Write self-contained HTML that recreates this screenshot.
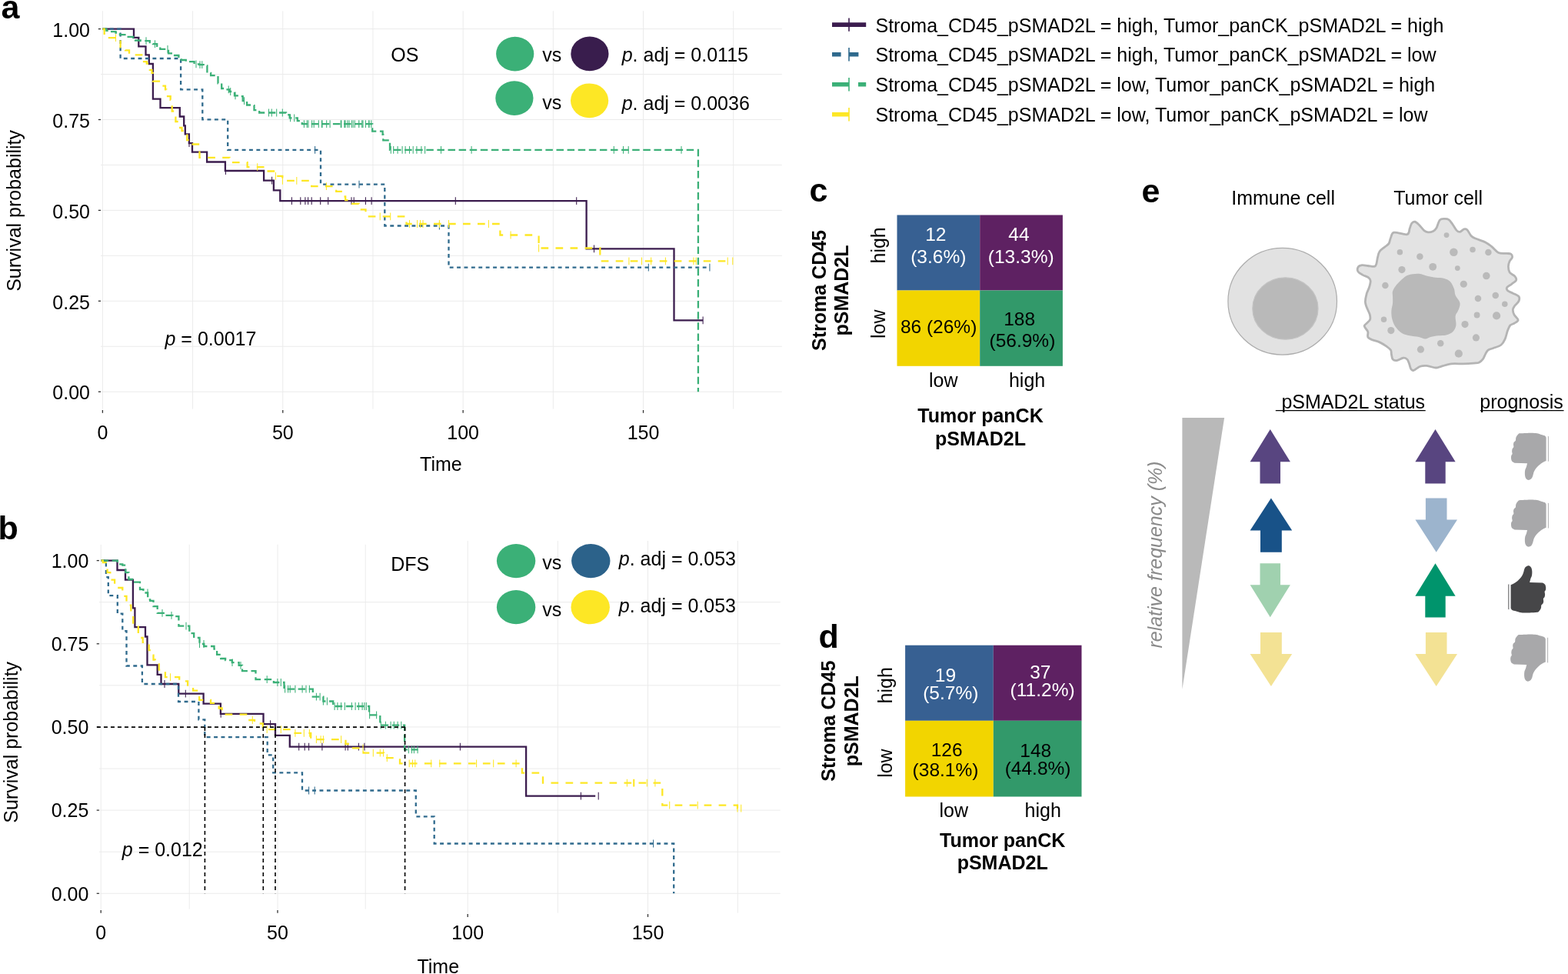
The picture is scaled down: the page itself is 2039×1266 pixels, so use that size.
<!DOCTYPE html>
<html><head><meta charset="utf-8"><title>Figure</title>
<style>html,body{margin:0;padding:0;background:#fff;} svg{display:block;}</style>
</head><body>
<svg width="2039" height="1266" viewBox="0 0 2039 1266" font-family='"Liberation Sans", Arial, Helvetica, sans-serif'>
<rect width="2039" height="1266" fill="#fff"/>
<line x1="131.0" y1="37.60" x2="1016.8" y2="37.60" stroke="#ebebeb" stroke-width="1.0"/>
<line x1="131.0" y1="96.55" x2="1016.8" y2="96.55" stroke="#ebebeb" stroke-width="1.0"/>
<line x1="131.0" y1="155.50" x2="1016.8" y2="155.50" stroke="#ebebeb" stroke-width="1.0"/>
<line x1="131.0" y1="214.45" x2="1016.8" y2="214.45" stroke="#ebebeb" stroke-width="1.0"/>
<line x1="131.0" y1="273.40" x2="1016.8" y2="273.40" stroke="#ebebeb" stroke-width="1.0"/>
<line x1="131.0" y1="332.35" x2="1016.8" y2="332.35" stroke="#ebebeb" stroke-width="1.0"/>
<line x1="131.0" y1="391.30" x2="1016.8" y2="391.30" stroke="#ebebeb" stroke-width="1.0"/>
<line x1="131.0" y1="450.25" x2="1016.8" y2="450.25" stroke="#ebebeb" stroke-width="1.0"/>
<line x1="131.0" y1="509.20" x2="1016.8" y2="509.20" stroke="#ebebeb" stroke-width="1.0"/>
<line x1="133.40" y1="14.3" x2="133.40" y2="531.6" stroke="#ebebeb" stroke-width="1.0"/>
<line x1="250.59" y1="14.3" x2="250.59" y2="531.6" stroke="#ebebeb" stroke-width="1.0"/>
<line x1="367.77" y1="14.3" x2="367.77" y2="531.6" stroke="#ebebeb" stroke-width="1.0"/>
<line x1="484.96" y1="14.3" x2="484.96" y2="531.6" stroke="#ebebeb" stroke-width="1.0"/>
<line x1="602.15" y1="14.3" x2="602.15" y2="531.6" stroke="#ebebeb" stroke-width="1.0"/>
<line x1="719.34" y1="14.3" x2="719.34" y2="531.6" stroke="#ebebeb" stroke-width="1.0"/>
<line x1="836.52" y1="14.3" x2="836.52" y2="531.6" stroke="#ebebeb" stroke-width="1.0"/>
<line x1="953.71" y1="14.3" x2="953.71" y2="531.6" stroke="#ebebeb" stroke-width="1.0"/>
<line x1="127.8" y1="37.60" x2="131.0" y2="37.60" stroke="#333" stroke-width="1.3"/>
<text x="117.0" y="47.8" font-size="25" text-anchor="end" font-weight="normal" font-style="normal" fill="#000" >1.00</text>
<line x1="127.8" y1="155.50" x2="131.0" y2="155.50" stroke="#333" stroke-width="1.3"/>
<text x="117.0" y="165.7" font-size="25" text-anchor="end" font-weight="normal" font-style="normal" fill="#000" >0.75</text>
<line x1="127.8" y1="273.40" x2="131.0" y2="273.40" stroke="#333" stroke-width="1.3"/>
<text x="117.0" y="283.6" font-size="25" text-anchor="end" font-weight="normal" font-style="normal" fill="#000" >0.50</text>
<line x1="127.8" y1="391.30" x2="131.0" y2="391.30" stroke="#333" stroke-width="1.3"/>
<text x="117.0" y="401.5" font-size="25" text-anchor="end" font-weight="normal" font-style="normal" fill="#000" >0.25</text>
<line x1="127.8" y1="509.20" x2="131.0" y2="509.20" stroke="#333" stroke-width="1.3"/>
<text x="117.0" y="519.4" font-size="25" text-anchor="end" font-weight="normal" font-style="normal" fill="#000" >0.00</text>
<line x1="133.40" y1="533.0" x2="133.40" y2="536.8000000000001" stroke="#333" stroke-width="1.3"/>
<text x="133.4" y="570.7" font-size="25" text-anchor="middle" font-weight="normal" font-style="normal" fill="#000" >0</text>
<line x1="367.77" y1="533.0" x2="367.77" y2="536.8000000000001" stroke="#333" stroke-width="1.3"/>
<text x="367.8" y="570.7" font-size="25" text-anchor="middle" font-weight="normal" font-style="normal" fill="#000" >50</text>
<line x1="602.15" y1="533.0" x2="602.15" y2="536.8000000000001" stroke="#333" stroke-width="1.3"/>
<text x="602.1" y="570.7" font-size="25" text-anchor="middle" font-weight="normal" font-style="normal" fill="#000" >100</text>
<line x1="836.52" y1="533.0" x2="836.52" y2="536.8000000000001" stroke="#333" stroke-width="1.3"/>
<text x="836.5" y="570.7" font-size="25" text-anchor="middle" font-weight="normal" font-style="normal" fill="#000" >150</text>
<text x="573.4" y="612.2" font-size="25" text-anchor="middle" font-weight="normal" font-style="normal" fill="#000" >Time</text>
<text x="0" y="0" font-size="25" text-anchor="middle" transform="translate(26.8,273.9) rotate(-90)">Survival probability</text>
<line x1="128.9" y1="782.69" x2="1014.7" y2="782.69" stroke="#ebebeb" stroke-width="1.0"/>
<line x1="128.9" y1="836.77" x2="1014.7" y2="836.77" stroke="#ebebeb" stroke-width="1.0"/>
<line x1="128.9" y1="890.86" x2="1014.7" y2="890.86" stroke="#ebebeb" stroke-width="1.0"/>
<line x1="128.9" y1="944.95" x2="1014.7" y2="944.95" stroke="#ebebeb" stroke-width="1.0"/>
<line x1="128.9" y1="999.04" x2="1014.7" y2="999.04" stroke="#ebebeb" stroke-width="1.0"/>
<line x1="128.9" y1="1053.12" x2="1014.7" y2="1053.12" stroke="#ebebeb" stroke-width="1.0"/>
<line x1="128.9" y1="1107.21" x2="1014.7" y2="1107.21" stroke="#ebebeb" stroke-width="1.0"/>
<line x1="128.9" y1="1161.30" x2="1014.7" y2="1161.30" stroke="#ebebeb" stroke-width="1.0"/>
<line x1="131.20" y1="707.8" x2="131.20" y2="1181.6" stroke="#ebebeb" stroke-width="1.0"/>
<line x1="246.20" y1="707.8" x2="246.20" y2="1181.6" stroke="#ebebeb" stroke-width="1.0"/>
<line x1="361.00" y1="707.8" x2="361.00" y2="1181.6" stroke="#ebebeb" stroke-width="1.0"/>
<line x1="475.20" y1="707.8" x2="475.20" y2="1181.6" stroke="#ebebeb" stroke-width="1.0"/>
<line x1="608.20" y1="703.0" x2="608.20" y2="1186.7" stroke="#ebebeb" stroke-width="1.0"/>
<line x1="725.30" y1="703.0" x2="725.30" y2="1186.7" stroke="#ebebeb" stroke-width="1.0"/>
<line x1="842.50" y1="703.0" x2="842.50" y2="1186.7" stroke="#ebebeb" stroke-width="1.0"/>
<line x1="959.30" y1="703.0" x2="959.30" y2="1186.7" stroke="#ebebeb" stroke-width="1.0"/>
<line x1="125.7" y1="728.60" x2="128.9" y2="728.60" stroke="#333" stroke-width="1.3"/>
<text x="115.3" y="737.9" font-size="25" text-anchor="end" font-weight="normal" font-style="normal" fill="#000" >1.00</text>
<line x1="125.7" y1="836.77" x2="128.9" y2="836.77" stroke="#333" stroke-width="1.3"/>
<text x="115.3" y="846.1" font-size="25" text-anchor="end" font-weight="normal" font-style="normal" fill="#000" >0.75</text>
<line x1="125.7" y1="944.95" x2="128.9" y2="944.95" stroke="#333" stroke-width="1.3"/>
<text x="115.3" y="954.2" font-size="25" text-anchor="end" font-weight="normal" font-style="normal" fill="#000" >0.50</text>
<line x1="125.7" y1="1053.12" x2="128.9" y2="1053.12" stroke="#333" stroke-width="1.3"/>
<text x="115.3" y="1062.4" font-size="25" text-anchor="end" font-weight="normal" font-style="normal" fill="#000" >0.25</text>
<line x1="125.7" y1="1161.30" x2="128.9" y2="1161.30" stroke="#333" stroke-width="1.3"/>
<text x="115.3" y="1170.6" font-size="25" text-anchor="end" font-weight="normal" font-style="normal" fill="#000" >0.00</text>
<line x1="131.20" y1="1183.0" x2="131.20" y2="1186.8" stroke="#333" stroke-width="1.3"/>
<text x="131.2" y="1221.2" font-size="25" text-anchor="middle" font-weight="normal" font-style="normal" fill="#000" >0</text>
<line x1="361.00" y1="1183.0" x2="361.00" y2="1186.8" stroke="#333" stroke-width="1.3"/>
<text x="361.0" y="1221.2" font-size="25" text-anchor="middle" font-weight="normal" font-style="normal" fill="#000" >50</text>
<line x1="608.20" y1="1188.1000000000001" x2="608.20" y2="1191.9" stroke="#333" stroke-width="1.3"/>
<text x="608.2" y="1221.2" font-size="25" text-anchor="middle" font-weight="normal" font-style="normal" fill="#000" >100</text>
<line x1="842.50" y1="1188.1000000000001" x2="842.50" y2="1191.9" stroke="#333" stroke-width="1.3"/>
<text x="842.5" y="1221.2" font-size="25" text-anchor="middle" font-weight="normal" font-style="normal" fill="#000" >150</text>
<text x="569.8" y="1265.3" font-size="25" text-anchor="middle" font-weight="normal" font-style="normal" fill="#000" >Time</text>
<text x="0" y="0" font-size="25" text-anchor="middle" transform="translate(22.9,964.8) rotate(-90)">Survival probability</text>
<path d="M133.4 37.6H174.0V48.9H180.3V60.3H189.5V71.3H193.8V83.0H198.9V128.7H208.5V140.1H233.8V151.5H239.2V163.3H240.8V174.3H245.9V186.2H250.0V197.7H269.1V210.5H292.9V222.0H343.1V234.7H355.9V247.4H364.3V261.2H762.6V323.4H876.5V416.3H914.1V416.3" fill="none" stroke="#3b1c4e" stroke-width="2.3" stroke-linejoin="miter"/>
<path d="M246.0 181.3V191.1M293.4 217.1V226.9M353.6 229.8V239.6M379.4 256.3V266.1M390.8 256.3V266.1M396.9 256.3V266.1M400.6 256.3V266.1M405.2 256.3V266.1M416.7 256.3V266.1M426.7 256.3V266.1M457.0 256.3V266.1M460.2 256.3V266.1M475.4 256.3V266.1M483.1 256.3V266.1M592.3 256.3V266.1M749.7 256.3V266.1M772.5 318.5V328.3M914.1 411.4V421.2" stroke="#3b1c4e" stroke-width="1.05" fill="none"/>
<path d="M133.4 37.6H156.6V76.0H235.1V116.3H263.3V155.3H296.2V194.8H417.0V239.7H500.3V293.5H583.5V347.7H922.9V347.7" fill="none" stroke="#2f6a8d" stroke-width="2.3" stroke-dasharray="4.9 4.5" stroke-linejoin="miter"/>
<path d="M409.6 189.9V199.7M467.0 234.8V244.6M571.4 288.6V298.4M843.3 342.8V352.6M922.9 342.8V352.6" stroke="#2f6a8d" stroke-width="1.05" fill="none"/>
<path d="M133.4 37.6H138.4V39.8H145.1V41.1H150.5V42.5H155.9V45.1H165.3V47.8H173.3V49.2H176.0V52.5H182.7V53.2H194.8V55.2H198.9V57.2H204.2V59.9H208.3V63.9H219.0V69.3H224.4V72.0H232.4V75.4H235.8V78.0H241.8V80.1H252.6V83.4H259.3V84.1H264.7V85.4H269.4V94.8H274.1V98.2H283.5V108.3H288.2V115.0H291.5V116.3H298.2V119.0H305.0V124.4H310.3V125.1H315.7V131.1H321.1V136.5H326.4V137.1H330.5V143.2H337.2V146.5H372.1V147.2H375.4V149.4H376.7V153.4H386.8V157.2H392.8V161.1H484.2V170.6H497.6V174.9H498.3V182.3H507.0V194.8H907.9V509.2" fill="none" stroke="#3bb077" stroke-width="2.3" stroke-dasharray="9.5 4.6" stroke-linejoin="miter"/>
<path d="M190.0 48.3V58.1M201.5 52.3V62.1M218.0 59.0V68.8M255.0 78.5V88.3M260.0 79.2V89.0M262.8 79.2V89.0M297.2 111.4V121.2M299.7 114.1V123.9M306.0 119.5V129.3M317.6 126.2V136.0M349.5 141.6V151.4M353.3 141.6V151.4M359.7 141.6V151.4M367.3 141.6V151.4M377.6 148.5V158.3M382.7 148.5V158.3M395.4 156.2V166.0M399.2 156.2V166.0M408.2 156.2V166.0M418.4 156.2V166.0M424.7 156.2V166.0M443.9 156.2V166.0M449.0 156.2V166.0M454.0 156.2V166.0M459.2 156.2V166.0M466.8 156.2V166.0M472.0 156.2V166.0M479.6 156.2V166.0M400.9 156.2V166.0M405.6 156.2V166.0M414.3 156.2V166.0M419.0 156.2V166.0M429.1 156.2V166.0M443.2 156.2V166.0M447.9 156.2V166.0M451.9 156.2V166.0M457.3 156.2V166.0M461.3 156.2V166.0M466.7 156.2V166.0M470.7 156.2V166.0M475.4 156.2V166.0M480.1 156.2V166.0M482.8 156.2V166.0M508.3 189.9V199.7M511.7 189.9V199.7M517.1 189.9V199.7M523.1 189.9V199.7M527.1 189.9V199.7M532.5 189.9V199.7M537.2 189.9V199.7M541.9 189.9V199.7M547.9 189.9V199.7M552.6 189.9V199.7M573.5 189.9V199.7M613.1 189.9V199.7M798.3 189.9V199.7M810.5 189.9V199.7M817.2 189.9V199.7M886.0 189.9V199.7" stroke="#3bb077" stroke-width="1.05" fill="none"/>
<path d="M133.4 37.6H135.7V49.2H156.6V61.3H163.0V65.3H168.0V71.3H185.4V80.1H190.8V82.7H194.8V90.8H197.5V94.8H198.9V105.6H211.0V111.6H215.0V116.3H216.3V125.1H221.7V129.8H223.7V144.5H227.1V152.6H228.4V158.0H232.4V166.0H236.5V170.0H240.5V175.4H243.2V182.1H248.6V187.5H259.5V204.8H298.5V211.1H321.6V217.2H343.7V222.5H357.5V228.8H367.3V234.9H405.2V242.1H437.2V248.8H446.5V255.5H449.2V260.2H456.0V264.9H466.7V272.3H475.5V281.3H528.5V291.0H650.4V305.5H700.6V322.5H780.3V339.3H952.8V339.3" fill="none" stroke="#fde725" stroke-width="2.3" stroke-dasharray="9.7 9.3" stroke-linejoin="miter"/>
<path d="M150.5 44.3V54.1M334.7 212.3V222.1M358.4 223.9V233.7M367.4 230.0V239.8M385.8 230.0V239.8M424.4 237.2V247.0M494.2 276.4V286.2M507.7 276.4V286.2M532.5 286.1V295.9M542.6 286.1V295.9M546.6 286.1V295.9M550.0 286.1V295.9M571.4 286.1V295.9M583.5 286.1V295.9M635.4 286.1V295.9M664.1 300.6V310.4M700.6 317.6V327.4M817.9 334.4V344.2M834.5 334.4V344.2M846.6 334.4V344.2M865.4 334.4V344.2M901.9 334.4V344.2M905.2 334.4V344.2M946.2 334.4V344.2M952.8 334.4V344.2" stroke="#fde725" stroke-width="1.05" fill="none"/>
<path d="M131.6 728.6H152.5V741.0H163.0V753.7H172.9V790.3H175.4V815.1H189.0V827.5H191.5V864.4H204.7V876.8H209.5V889.0H232.3V901.7H264.6V914.6H286.9V927.8H342.5V941.2H358.0V955.9H376.8V970.6H684.1V1034.6H774.2V1034.6" fill="none" stroke="#3b1c4e" stroke-width="2.3" stroke-linejoin="miter"/>
<path d="M214.0 884.1V893.9M241.3 896.8V906.6M287.2 922.9V932.7M351.6 936.3V946.1M388.7 965.7V975.5M396.2 965.7V975.5M401.6 965.7V975.5M418.9 965.7V975.5M449.1 965.7V975.5M452.3 965.7V975.5M466.4 965.7V975.5M473.9 965.7V975.5M598.4 965.7V975.5M755.4 1029.7V1039.5M778.2 1029.7V1039.5" stroke="#3b1c4e" stroke-width="1.05" fill="none"/>
<path d="M131.6 728.6H137.9V750.1H140.8V774.2H152.8V797.6H159.3V820.2H164.5V865.5H184.9V889.0H232.0V912.0H258.4V935.3H266.3V958.1H347.7V981.4H355.2V1004.4H393.0V1027.5H540.8V1061.4H564.7V1096.5H876.2V1161.3" fill="none" stroke="#2f6a8d" stroke-width="2.3" stroke-dasharray="4.9 4.5" stroke-linejoin="miter"/>
<path d="M401.6 1022.6V1032.4M409.2 1022.6V1032.4M849.6 1091.6V1101.4" stroke="#2f6a8d" stroke-width="1.05" fill="none"/>
<path d="M131.6 728.6H152.8V733.3H159.3V734.7H163.3V744.2H167.4V753.0H173.2V756.7H182.0V766.2H186.4V770.5H192.2V779.3H195.2V780.8H199.5V788.1H204.7V796.8H214.2V799.8H224.4V801.2H232.4V813.7H246.3V823.2H252.2V829.0H259.5V837.0H265.3V840.0H278.5V843.6H282.1V850.9H287.2V856.0H293.1V858.2H301.8V861.2H310.6V864.8H315.0V872.1H332.5V883.1H355.9V887.0H369.5V895.6H406.8V905.6H420.4V911.5H433.2V918.0H480.1V929.3H494.3V942.6H526.1V974.3H543.4V974.3" fill="none" stroke="#3bb077" stroke-width="2.3" stroke-dasharray="9.5 4.6" stroke-linejoin="miter"/>
<path d="M192.0 765.6V775.4M211.0 791.9V801.7M223.0 794.9V804.7M242.0 808.8V818.6M259.5 832.1V841.9M265.0 832.1V841.9M302.0 856.3V866.1M313.0 859.9V869.7M347.2 878.2V888.0M360.9 882.1V891.9M365.3 882.1V891.9M370.6 890.7V900.5M374.6 890.7V900.5M377.2 890.7V900.5M383.9 890.7V900.5M393.1 890.7V900.5M398.0 890.7V900.5M402.4 890.7V900.5M411.4 900.7V910.5M416.1 900.7V910.5M420.4 906.6V916.4M425.4 906.6V916.4M435.1 913.1V922.9M438.9 913.1V922.9M443.6 913.1V922.9M448.3 913.1V922.9M457.3 913.1V922.9M462.1 913.1V922.9M466.4 913.1V922.9M471.1 913.1V922.9M473.9 913.1V922.9M476.3 913.1V922.9M480.6 924.4V934.2M489.6 924.4V934.2M495.3 937.7V947.5M501.4 937.7V947.5M508.1 937.7V947.5M512.3 937.7V947.5M517.1 937.7V947.5M521.8 937.7V947.5M531.3 969.4V979.2M535.5 969.4V979.2M538.4 969.4V979.2M543.1 969.4V979.2" stroke="#3bb077" stroke-width="1.05" fill="none"/>
<path d="M131.6 728.6H133.8V731.1H139.6V744.2H143.3V753.7H149.1V764.0H159.3V774.9H164.5V786.6H170.3V798.3H173.2V812.9H179.8V823.2H182.7V829.0H185.7V834.8H193.7V845.1H195.9V851.7H199.5V857.5H201.7V863.3H206.8V870.7H214.9V880.2H233.2V885.3H244.1V892.6H251.1V897.7H259.2V909.8H274.0V913.8H284.7V920.5H288.7V928.6H322.5V936.0H331.0V940.5H341.8V948.2H378.6V952.8H404.2V961.2H449.5V967.0H457.5V972.4H472.5V978.6H499.0V985.2H520.0V992.3H678.9V1004.7H706.0V1017.7H861.3V1046.6H959.0V1050.6H963.7V1050.6" fill="none" stroke="#fde725" stroke-width="2.3" stroke-dasharray="9.7 9.3" stroke-linejoin="miter"/>
<path d="M221.5 875.3V885.1M328.3 931.1V940.9M347.2 943.3V953.1M365.3 943.3V953.1M383.9 947.9V957.7M395.3 947.9V957.7M402.4 947.9V957.7M411.4 956.3V966.1M417.1 956.3V966.1M420.4 956.3V966.1M443.6 956.3V966.1M472.0 967.5V977.3M485.3 973.7V983.5M494.3 973.7V983.5M498.6 973.7V983.5M503.3 980.3V990.1M532.2 987.4V997.2M536.5 987.4V997.2M539.8 987.4V997.2M560.7 987.4V997.2M571.8 987.4V997.2M619.6 987.4V997.2M641.7 987.4V997.2M671.1 987.4V997.2M815.4 1012.8V1022.6M823.7 1012.8V1022.6M824.8 1012.8V1022.6M841.3 1012.8V1022.6M851.9 1012.8V1022.6M870.7 1041.7V1051.5M907.2 1041.7V1051.5M959.0 1045.7V1055.5M963.7 1045.7V1055.5" stroke="#fde725" stroke-width="1.05" fill="none"/>
<path d="M126 945.1H526.8M266.4 945.1V1161.3M342.3 945.1V1161.3M358 945.1V1161.3M526.6 945.1V1161.3" stroke="#000" stroke-width="1.6" stroke-dasharray="4.9 4.1" fill="none"/>
<text x="1.5" y="24.0" font-size="43" text-anchor="start" font-weight="bold" font-style="normal" fill="#000" >a</text>
<text x="-2.5" y="701.4" font-size="43" text-anchor="start" font-weight="bold" font-style="normal" fill="#000" >b</text>
<text x="1052.5" y="262.0" font-size="43" text-anchor="start" font-weight="bold" font-style="normal" fill="#000" >c</text>
<text x="1064.5" y="841.5" font-size="43" text-anchor="start" font-weight="bold" font-style="normal" fill="#000" >d</text>
<text x="1484.5" y="263.0" font-size="43" text-anchor="start" font-weight="bold" font-style="normal" fill="#000" >e</text>
<text x="508.3" y="80.1" font-size="25" text-anchor="start" font-weight="normal" font-style="normal" fill="#000" >OS</text>
<ellipse cx="669.7" cy="70.1" rx="24.6" ry="22.4" fill="#3bb077"/>
<ellipse cx="766.9" cy="69.9" rx="24.6" ry="22.4" fill="#391d4d"/>
<ellipse cx="668.9" cy="127.6" rx="24.6" ry="22.4" fill="#3bb077"/>
<ellipse cx="766.6" cy="130.8" rx="24.6" ry="22.4" fill="#fde725"/>
<text x="705.3" y="80.4" font-size="25" text-anchor="start" font-weight="normal" font-style="normal" fill="#000" >vs</text>
<text x="705.3" y="142.2" font-size="25" text-anchor="start" font-weight="normal" font-style="normal" fill="#000" >vs</text>
<text x="808.7" y="80.4" font-size="25"><tspan font-style="italic">p</tspan>. adj = 0.0115</text>
<text x="808.7" y="142.5" font-size="25"><tspan font-style="italic">p</tspan>. adj = 0.0036</text>
<text x="214.5" y="449.2" font-size="25"><tspan font-style="italic">p</tspan> = 0.0017</text>
<text x="508.3" y="741.8" font-size="25" text-anchor="start" font-weight="normal" font-style="normal" fill="#000" >DFS</text>
<ellipse cx="671.1" cy="729.1" rx="25.2" ry="22.1" fill="#3bb077"/>
<ellipse cx="768.3" cy="729.1" rx="25.2" ry="22.1" fill="#2c628a"/>
<ellipse cx="671.1" cy="789.2" rx="25.2" ry="22.1" fill="#3bb077"/>
<ellipse cx="767.7" cy="789.2" rx="25.2" ry="22.1" fill="#fde725"/>
<text x="705.3" y="739.9" font-size="25" text-anchor="start" font-weight="normal" font-style="normal" fill="#000" >vs</text>
<text x="705.3" y="800.6" font-size="25" text-anchor="start" font-weight="normal" font-style="normal" fill="#000" >vs</text>
<text x="804.8" y="735.3" font-size="25"><tspan font-style="italic">p</tspan>. adj = 0.053</text>
<text x="804.8" y="796.0" font-size="25"><tspan font-style="italic">p</tspan>. adj = 0.053</text>
<text x="158.8" y="1113" font-size="25"><tspan font-style="italic">p</tspan> = 0.012</text>
<text x="1138.5" y="41.5" font-size="25" text-anchor="start" font-weight="normal" font-style="normal" fill="#000" >Stroma_CD45_pSMAD2L = high, Tumor_panCK_pSMAD2L = high</text>
<text x="1138.5" y="80.2" font-size="25" text-anchor="start" font-weight="normal" font-style="normal" fill="#000" >Stroma_CD45_pSMAD2L = high, Tumor_panCK_pSMAD2L = low</text>
<text x="1138.5" y="119.1" font-size="25" text-anchor="start" font-weight="normal" font-style="normal" fill="#000" >Stroma_CD45_pSMAD2L = low, Tumor_panCK_pSMAD2L = high</text>
<text x="1138.5" y="158.1" font-size="25" text-anchor="start" font-weight="normal" font-style="normal" fill="#000" >Stroma_CD45_pSMAD2L = low, Tumor_panCK_pSMAD2L = low</text>
<line x1="1082" y1="32.1" x2="1126.2" y2="32.1" stroke="#3b1c4e" stroke-width="5.6"/>
<line x1="1104" y1="23.400000000000002" x2="1104" y2="40.8" stroke="#3b1c4e" stroke-width="1.6"/>
<path d="M1082 70.8H1093.6M1104 70.8H1116.4" stroke="#2f6a8d" stroke-width="5.6"/>
<line x1="1104" y1="62.099999999999994" x2="1104" y2="79.5" stroke="#2f6a8d" stroke-width="1.6"/>
<path d="M1082 109.7H1104M1116 109.7H1126.2" stroke="#3bb077" stroke-width="5.6"/>
<line x1="1104" y1="101.0" x2="1104" y2="118.4" stroke="#3bb077" stroke-width="1.6"/>
<path d="M1082 148.7H1104" stroke="#fde725" stroke-width="5.6"/>
<line x1="1104" y1="140.0" x2="1104" y2="157.39999999999998" stroke="#fde725" stroke-width="1.6"/>
<rect x="1166.5" y="279.5" width="107.70000000000005" height="98.0" fill="#376092"/>
<rect x="1274.2" y="279.5" width="107.70000000000005" height="98.0" fill="#5e2162"/>
<rect x="1166.5" y="377.5" width="107.70000000000005" height="98.30000000000001" fill="#f2d500"/>
<rect x="1274.2" y="377.5" width="107.70000000000005" height="98.30000000000001" fill="#32996a"/>
<text x="1216.8" y="313.1" font-size="24.5" text-anchor="middle" font-weight="normal" font-style="normal" fill="#fff" >12</text>
<text x="1220.3" y="342.2" font-size="24.5" text-anchor="middle" font-weight="normal" font-style="normal" fill="#fff" >(3.6%)</text>
<text x="1324.9" y="313.1" font-size="24.5" text-anchor="middle" font-weight="normal" font-style="normal" fill="#fff" >44</text>
<text x="1327.7" y="342.2" font-size="24.5" text-anchor="middle" font-weight="normal" font-style="normal" fill="#fff" >(13.3%)</text>
<text x="1220.6" y="432.9" font-size="24.5" text-anchor="middle" font-weight="normal" font-style="normal" fill="#000" >86 (26%)</text>
<text x="1325.6" y="423.2" font-size="24.5" text-anchor="middle" font-weight="normal" font-style="normal" fill="#000" >188</text>
<text x="1329.4" y="450.7" font-size="24.5" text-anchor="middle" font-weight="normal" font-style="normal" fill="#000" >(56.9%)</text>
<text x="0" y="0" font-size="25" font-weight="bold" text-anchor="middle" transform="translate(1073.7,377.5) rotate(-90)">Stroma CD45</text>
<text x="0" y="0" font-size="25" font-weight="bold" text-anchor="middle" transform="translate(1103.2,377.5) rotate(-90)">pSMAD2L</text>
<text x="0" y="0" font-size="25" text-anchor="middle" transform="translate(1151,318.9) rotate(-90)">high</text>
<text x="0" y="0" font-size="25" text-anchor="middle" transform="translate(1151,421.2) rotate(-90)">low</text>
<text x="1226.7" y="502.7" font-size="25" text-anchor="middle" font-weight="normal" font-style="normal" fill="#000" >low</text>
<text x="1335.6" y="502.7" font-size="25" text-anchor="middle" font-weight="normal" font-style="normal" fill="#000" >high</text>
<text x="1275.0" y="548.6" font-size="25" text-anchor="middle" font-weight="bold" font-style="normal" fill="#000" >Tumor panCK</text>
<text x="1275.0" y="578.6" font-size="25" text-anchor="middle" font-weight="bold" font-style="normal" fill="#000" >pSMAD2L</text>
<rect x="1177.1" y="838.7" width="114.70000000000005" height="98.09999999999991" fill="#376092"/>
<rect x="1291.8" y="838.7" width="114.70000000000005" height="98.09999999999991" fill="#5e2162"/>
<rect x="1177.1" y="936.8" width="114.70000000000005" height="98.70000000000005" fill="#f2d500"/>
<rect x="1291.8" y="936.8" width="114.70000000000005" height="98.70000000000005" fill="#32996a"/>
<text x="1229.5" y="885.7" font-size="24.5" text-anchor="middle" font-weight="normal" font-style="normal" fill="#fff" >19</text>
<text x="1236.3" y="909.3" font-size="24.5" text-anchor="middle" font-weight="normal" font-style="normal" fill="#fff" >(5.7%)</text>
<text x="1352.8" y="881.7" font-size="24.5" text-anchor="middle" font-weight="normal" font-style="normal" fill="#fff" >37</text>
<text x="1355.6" y="904.9" font-size="24.5" text-anchor="middle" font-weight="normal" font-style="normal" fill="#fff" >(11.2%)</text>
<text x="1231.1" y="982.7" font-size="24.5" text-anchor="middle" font-weight="normal" font-style="normal" fill="#000" >126</text>
<text x="1229.5" y="1008.9" font-size="24.5" text-anchor="middle" font-weight="normal" font-style="normal" fill="#000" >(38.1%)</text>
<text x="1346.7" y="983.5" font-size="24.5" text-anchor="middle" font-weight="normal" font-style="normal" fill="#000" >148</text>
<text x="1349.6" y="1007.3" font-size="24.5" text-anchor="middle" font-weight="normal" font-style="normal" fill="#000" >(44.8%)</text>
<text x="0" y="0" font-size="25" font-weight="bold" text-anchor="middle" transform="translate(1085.8,937.2) rotate(-90)">Stroma CD45</text>
<text x="0" y="0" font-size="25" font-weight="bold" text-anchor="middle" transform="translate(1115.6,937.2) rotate(-90)">pSMAD2L</text>
<text x="0" y="0" font-size="25" text-anchor="middle" transform="translate(1159.9,890.8) rotate(-90)">high</text>
<text x="0" y="0" font-size="25" text-anchor="middle" transform="translate(1159.9,992.1) rotate(-90)">low</text>
<text x="1240.2" y="1062.0" font-size="25" text-anchor="middle" font-weight="normal" font-style="normal" fill="#000" >low</text>
<text x="1356.2" y="1062.0" font-size="25" text-anchor="middle" font-weight="normal" font-style="normal" fill="#000" >high</text>
<text x="1303.7" y="1100.7" font-size="25" text-anchor="middle" font-weight="bold" font-style="normal" fill="#000" >Tumor panCK</text>
<text x="1303.7" y="1130.3" font-size="25" text-anchor="middle" font-weight="bold" font-style="normal" fill="#000" >pSMAD2L</text>
<text x="1601.2" y="266.0" font-size="25" text-anchor="start" font-weight="normal" font-style="normal" fill="#000" >Immune cell</text>
<text x="1812.2" y="266.0" font-size="25" text-anchor="start" font-weight="normal" font-style="normal" fill="#000" >Tumor cell</text>
<ellipse cx="1667.7" cy="391.75" rx="70.8" ry="69.3" fill="#e2e2e2" stroke="#acacac" stroke-width="1.2"/>
<ellipse cx="1671.4" cy="401" rx="42.6" ry="40.2" fill="#b9b9b9" stroke="#c3c3c3" stroke-width="1.2"/>
<path d="M1812.75 302.18C1816.29 301.47 1826.34 305.58 1829.74 304.73C1833.14 303.88 1832.15 299.49 1833.14 297.08C1834.13 294.68 1834.55 291.76 1835.69 290.29C1836.82 288.82 1838.38 287.97 1839.93 288.25C1841.49 288.53 1843.05 290.09 1845.03 291.99C1847.01 293.88 1849.84 297.99 1851.82 299.63C1853.81 301.27 1854.94 301.70 1856.92 301.84C1858.90 301.98 1861.87 301.41 1863.71 300.48C1865.55 299.55 1866.55 298.64 1867.96 296.23C1869.38 293.83 1870.51 288.02 1872.21 286.04C1873.91 284.06 1876.17 284.43 1878.15 284.34C1880.13 284.26 1882.26 284.26 1884.10 285.53C1885.94 286.81 1887.50 289.64 1889.19 291.99C1890.89 294.34 1892.73 298.07 1894.29 299.63C1895.85 301.19 1896.98 301.61 1898.54 301.33C1900.09 301.05 1902.08 298.36 1903.63 297.93C1905.19 297.51 1906.32 297.37 1907.88 298.78C1909.44 300.20 1911.28 304.58 1912.98 306.43C1914.67 308.27 1914.96 308.41 1918.07 309.82C1921.19 311.24 1927.98 313.08 1931.66 314.92C1935.34 316.76 1937.32 318.60 1940.15 320.86C1942.98 323.13 1945.53 327.09 1948.65 328.51C1951.76 329.92 1956.15 329.07 1958.84 329.36C1961.53 329.64 1963.51 329.36 1964.78 330.21C1966.06 331.06 1966.77 332.90 1966.48 334.45C1966.20 336.01 1963.93 337.57 1963.09 339.55C1962.24 341.53 1961.39 343.94 1961.39 346.34C1961.39 348.75 1961.67 351.86 1963.09 353.99C1964.50 356.11 1968.46 357.38 1969.88 359.08C1971.30 360.78 1972.29 362.48 1971.58 364.18C1970.87 365.88 1967.62 367.72 1965.63 369.28C1963.65 370.83 1960.54 372.11 1959.69 373.52C1958.84 374.94 1959.26 376.49 1960.54 377.77C1961.81 379.04 1964.93 379.89 1967.33 381.17C1969.74 382.44 1973.70 383.71 1974.98 385.41C1976.25 387.11 1975.83 389.38 1974.98 391.36C1974.13 393.34 1971.15 395.46 1969.88 397.30C1968.61 399.14 1967.47 400.42 1967.33 402.40C1967.19 404.38 1967.90 406.93 1969.03 409.19C1970.16 411.46 1974.13 414.15 1974.13 415.99C1974.13 417.83 1970.73 419.10 1969.03 420.24C1967.33 421.37 1965.35 421.23 1963.93 422.78C1962.52 424.34 1961.67 426.61 1960.54 429.58C1959.41 432.55 1958.56 437.50 1957.14 440.62C1955.72 443.73 1954.59 446.28 1952.04 448.26C1949.50 450.24 1944.68 451.38 1941.85 452.51C1939.02 453.64 1936.76 453.78 1935.06 455.06C1933.36 456.33 1932.79 458.17 1931.66 460.15C1930.53 462.14 1929.68 465.11 1928.26 466.95C1926.85 468.79 1925.15 470.35 1923.17 471.20C1921.19 472.04 1919.77 471.76 1916.37 472.04C1912.98 472.33 1907.60 472.75 1902.78 472.89C1897.97 473.04 1892.31 472.33 1887.50 472.89C1882.68 473.46 1877.30 475.44 1873.91 476.29C1870.51 477.14 1870.23 478.13 1867.11 477.99C1864.00 477.85 1858.62 475.72 1855.22 475.44C1851.82 475.16 1849.56 475.30 1846.73 476.29C1843.90 477.28 1840.22 480.82 1838.23 481.39C1836.25 481.95 1835.83 481.25 1834.84 479.69C1833.85 478.13 1833.14 474.17 1832.29 472.04C1831.44 469.92 1831.01 468.08 1829.74 466.95C1828.47 465.82 1826.91 464.97 1824.64 465.25C1822.38 465.53 1818.42 468.36 1816.15 468.65C1813.89 468.93 1812.19 468.36 1811.06 466.95C1809.92 465.53 1809.78 462.14 1809.36 460.15C1808.93 458.17 1809.64 456.76 1808.51 455.06C1807.38 453.36 1804.97 451.66 1802.56 449.96C1800.16 448.26 1797.18 446.28 1794.07 444.87C1790.95 443.45 1786.43 442.60 1783.88 441.47C1781.33 440.34 1779.63 439.77 1778.78 438.07C1777.93 436.37 1779.35 433.26 1778.78 431.28C1778.21 429.29 1776.09 427.60 1775.38 426.18C1774.68 424.77 1773.54 424.48 1774.53 422.78C1775.53 421.08 1780.20 418.25 1781.33 415.99C1782.46 413.72 1782.04 412.03 1781.33 409.19C1780.62 406.36 1778.07 401.83 1777.08 399.00C1776.09 396.17 1775.38 395.04 1775.38 392.21C1775.38 389.38 1776.23 385.13 1777.08 382.02C1777.93 378.90 1779.63 376.35 1780.48 373.52C1781.33 370.69 1782.32 367.15 1782.18 365.03C1782.04 362.91 1781.33 362.06 1779.63 360.78C1777.93 359.51 1774.25 358.66 1771.99 357.38C1769.72 356.11 1767.03 354.84 1766.04 353.14C1765.05 351.44 1765.19 348.61 1766.04 347.19C1766.89 345.78 1769.01 344.93 1771.14 344.64C1773.26 344.36 1776.09 345.21 1778.78 345.49C1781.47 345.78 1785.43 346.77 1787.27 346.34C1789.11 345.92 1789.11 344.93 1789.82 342.95C1790.53 340.96 1790.81 337.14 1791.52 334.45C1792.23 331.76 1792.51 329.07 1794.07 326.81C1795.63 324.54 1798.88 322.56 1800.86 320.86C1802.85 319.17 1804.69 318.60 1805.96 316.62C1807.23 314.64 1807.38 311.38 1808.51 308.97C1809.64 306.57 1809.22 302.89 1812.75 302.18Z" fill="#e3e3e3" stroke="#b4b4b4" stroke-width="2.8" stroke-linejoin="round"/>
<path d="M1811.06 378.62C1811.91 376.07 1813.89 372.96 1816.15 370.12C1818.42 367.29 1822.10 363.75 1824.64 361.63C1827.19 359.51 1828.04 358.38 1831.44 357.38C1834.84 356.39 1840.78 355.40 1845.03 355.69C1849.28 355.97 1853.24 358.23 1856.92 359.08C1860.60 359.93 1863.71 360.36 1867.11 360.78C1870.51 361.21 1874.19 360.78 1877.30 361.63C1880.42 362.48 1883.53 363.61 1885.80 365.88C1888.06 368.14 1889.76 372.25 1890.89 375.22C1892.03 378.19 1891.32 380.60 1892.59 383.71C1893.87 386.83 1897.97 390.51 1898.54 393.91C1899.10 397.30 1896.98 401.27 1895.99 404.10C1895.00 406.93 1893.02 407.78 1892.59 410.89C1892.17 414.01 1894.01 419.39 1893.44 422.78C1892.87 426.18 1891.32 429.15 1889.19 431.28C1887.07 433.40 1883.81 434.67 1880.70 435.52C1877.59 436.37 1873.91 435.95 1870.51 436.37C1867.11 436.80 1863.15 437.36 1860.32 438.07C1857.49 438.78 1856.07 440.62 1853.52 440.62C1850.97 440.62 1848.43 438.78 1845.03 438.07C1841.63 437.36 1836.82 437.22 1833.14 436.37C1829.46 435.52 1826.06 434.96 1822.95 432.98C1819.83 430.99 1816.58 427.60 1814.45 424.48C1812.33 421.37 1811.06 417.69 1810.21 414.29C1809.36 410.89 1809.22 407.50 1809.36 404.10C1809.50 400.70 1810.77 397.02 1811.06 393.91C1811.34 390.79 1811.06 387.96 1811.06 385.41C1811.06 382.86 1810.21 381.17 1811.06 378.62Z" fill="#b9b9b9"/>
<circle cx="1881.04" cy="305.58" r="3.40" fill="#bababa"/>
<circle cx="1820.40" cy="327.66" r="3.74" fill="#bababa"/>
<circle cx="1846.39" cy="333.60" r="4.25" fill="#bababa"/>
<circle cx="1890.38" cy="327.66" r="5.27" fill="#bababa"/>
<circle cx="1915.01" cy="324.60" r="3.74" fill="#bababa"/>
<circle cx="1935.40" cy="328.00" r="4.25" fill="#bababa"/>
<circle cx="1822.95" cy="350.59" r="4.59" fill="#bababa"/>
<circle cx="1863.20" cy="346.85" r="4.93" fill="#bababa"/>
<circle cx="1895.31" cy="348.55" r="3.40" fill="#bababa"/>
<circle cx="1932.85" cy="358.57" r="4.76" fill="#bababa"/>
<circle cx="1801.37" cy="370.97" r="4.25" fill="#bababa"/>
<circle cx="1903.29" cy="369.28" r="4.59" fill="#bababa"/>
<circle cx="1921.98" cy="387.96" r="4.25" fill="#bababa"/>
<circle cx="1944.74" cy="384.05" r="4.25" fill="#bababa"/>
<circle cx="1956.80" cy="395.26" r="3.74" fill="#bababa"/>
<circle cx="1920.62" cy="409.53" r="3.91" fill="#bababa"/>
<circle cx="1946.10" cy="410.38" r="5.10" fill="#bababa"/>
<circle cx="1799.50" cy="415.14" r="3.74" fill="#bababa"/>
<circle cx="1904.99" cy="421.59" r="4.59" fill="#bababa"/>
<circle cx="1808.85" cy="429.58" r="4.59" fill="#bababa"/>
<circle cx="1919.43" cy="438.92" r="4.59" fill="#bababa"/>
<circle cx="1873.23" cy="446.22" r="4.25" fill="#bababa"/>
<circle cx="1847.41" cy="454.21" r="4.59" fill="#bababa"/>
<circle cx="1896.84" cy="459.64" r="5.10" fill="#bababa"/>
<text x="1659.5" y="530.8" font-size="25" text-anchor="start" font-weight="normal" font-style="normal" fill="#000" xml:space="preserve"> pSMAD2L status</text>
<line x1="1658.8" y1="533.6" x2="1853.7" y2="533.6" stroke="#000" stroke-width="1.2"/>
<text x="1924.3" y="530.8" font-size="25" text-anchor="start" font-weight="normal" font-style="normal" fill="#000" >prognosis</text>
<line x1="1925" y1="533.6" x2="2033.5" y2="533.6" stroke="#000" stroke-width="1.2"/>
<polygon points="1537.4,543.1 1592.1,543.1 1537.4,895.7" fill="#b9b9b9"/>
<text x="0" y="0" font-size="25" font-style="italic" fill="#8a8a8a" text-anchor="middle" transform="translate(1511,721) rotate(-90)">relative frequency (%)</text>
<polygon points="1651.75,557.9 1677.9,600.3 1665.0,600.3 1665.0,628.5 1638.5,628.5 1638.5,600.3 1625.6,600.3" fill="#584580"/>
<polygon points="1652.9,647.5 1680.2,689.6 1666.8000000000002,689.6 1666.8000000000002,717.8 1639.0,717.8 1639.0,689.6 1625.6000000000001,689.6" fill="#185288"/>
<polygon points="1638.5,732.3 1665.0,732.3 1665.0,760.2 1677.9,760.2 1651.75,802.3 1625.6,760.2 1638.5,760.2" fill="#a0d1af"/>
<polygon points="1639.0,821.9 1666.8000000000002,821.9 1666.8000000000002,850.0 1680.2,850.0 1652.9,892.1 1625.6000000000001,850.0 1639.0,850.0" fill="#f3e294"/>
<polygon points="1866.5,557.9 1892.65,600.3 1879.7,600.3 1879.7,628.5 1853.3,628.5 1853.3,600.3 1840.35,600.3" fill="#584580"/>
<polygon points="1853.9,647.5 1881.5,647.5 1881.5,675.4 1895.0,675.4 1867.7,717.8 1840.4,675.4 1853.9,675.4" fill="#9cb4cd"/>
<polygon points="1866.5,732.3 1892.65,774.7 1879.7,774.7 1879.7,802.5 1853.3,802.5 1853.3,774.7 1840.35,774.7" fill="#00946c"/>
<polygon points="1853.9,821.9 1881.5,821.9 1881.5,850.0 1895.0,850.0 1867.7,892.1 1840.4,850.0 1853.9,850.0" fill="#f3e294"/>
<g transform="translate(0,0)"><path d="M1971.1 569.9C1971.23 569.48 1971.27 568.42 1971.90 567.40C1972.53 566.38 1973.93 564.48 1974.90 563.80C1975.87 563.12 1975.02 563.48 1977.70 563.30C1980.38 563.12 1987.50 562.70 1991.00 562.70C1994.50 562.70 1996.50 562.93 1998.70 563.30C2000.90 563.67 2002.53 564.40 2004.20 564.90C2005.87 565.40 2007.63 565.65 2008.70 566.30C2009.77 566.95 2010.28 568.38 2010.60 568.80L2010.6 598.9C2009.90 599.23 2008.02 599.88 2006.40 600.90C2004.78 601.92 2002.55 603.48 2000.90 605.00C1999.25 606.52 1997.60 608.43 1996.50 610.00C1995.40 611.57 1994.85 612.93 1994.30 614.40C1993.75 615.87 1993.67 617.52 1993.20 618.80C1992.73 620.08 1992.23 621.27 1991.50 622.10C1990.77 622.93 1989.72 623.57 1988.80 623.80C1987.88 624.03 1986.83 623.97 1986.00 623.50C1985.17 623.03 1984.32 622.15 1983.80 621.00C1983.28 619.85 1983.00 618.25 1982.90 616.60C1982.80 614.95 1982.87 612.75 1983.20 611.10C1983.53 609.45 1984.43 608.18 1984.90 606.70C1985.37 605.22 1985.82 602.95 1986.00 602.20L1969.4 601.7C1968.85 601.33 1966.83 600.52 1966.10 599.50C1965.37 598.48 1965.13 596.80 1965.00 595.60C1964.87 594.40 1965.03 593.22 1965.30 592.30C1965.57 591.38 1966.47 591.02 1966.60 590.10C1966.73 589.18 1966.10 587.92 1966.10 586.80C1966.10 585.68 1966.23 584.38 1966.60 583.40C1966.97 582.42 1968.07 581.90 1968.30 580.90C1968.53 579.90 1967.92 578.45 1968.00 577.40C1968.08 576.35 1968.33 575.38 1968.80 574.60C1969.27 573.82 1970.42 573.48 1970.80 572.70C1971.18 571.92 1971.05 570.37 1971.10 569.90Z" fill="#a8a8aa"/><line x1="2013.4" y1="567.1" x2="2013.4" y2="599.7" stroke="#a8a8aa" stroke-width="0.9"/></g>
<g transform="translate(0,86.8)"><path d="M1971.1 569.9C1971.23 569.48 1971.27 568.42 1971.90 567.40C1972.53 566.38 1973.93 564.48 1974.90 563.80C1975.87 563.12 1975.02 563.48 1977.70 563.30C1980.38 563.12 1987.50 562.70 1991.00 562.70C1994.50 562.70 1996.50 562.93 1998.70 563.30C2000.90 563.67 2002.53 564.40 2004.20 564.90C2005.87 565.40 2007.63 565.65 2008.70 566.30C2009.77 566.95 2010.28 568.38 2010.60 568.80L2010.6 598.9C2009.90 599.23 2008.02 599.88 2006.40 600.90C2004.78 601.92 2002.55 603.48 2000.90 605.00C1999.25 606.52 1997.60 608.43 1996.50 610.00C1995.40 611.57 1994.85 612.93 1994.30 614.40C1993.75 615.87 1993.67 617.52 1993.20 618.80C1992.73 620.08 1992.23 621.27 1991.50 622.10C1990.77 622.93 1989.72 623.57 1988.80 623.80C1987.88 624.03 1986.83 623.97 1986.00 623.50C1985.17 623.03 1984.32 622.15 1983.80 621.00C1983.28 619.85 1983.00 618.25 1982.90 616.60C1982.80 614.95 1982.87 612.75 1983.20 611.10C1983.53 609.45 1984.43 608.18 1984.90 606.70C1985.37 605.22 1985.82 602.95 1986.00 602.20L1969.4 601.7C1968.85 601.33 1966.83 600.52 1966.10 599.50C1965.37 598.48 1965.13 596.80 1965.00 595.60C1964.87 594.40 1965.03 593.22 1965.30 592.30C1965.57 591.38 1966.47 591.02 1966.60 590.10C1966.73 589.18 1966.10 587.92 1966.10 586.80C1966.10 585.68 1966.23 584.38 1966.60 583.40C1966.97 582.42 1968.07 581.90 1968.30 580.90C1968.53 579.90 1967.92 578.45 1968.00 577.40C1968.08 576.35 1968.33 575.38 1968.80 574.60C1969.27 573.82 1970.42 573.48 1970.80 572.70C1971.18 571.92 1971.05 570.37 1971.10 569.90Z" fill="#a8a8aa"/><line x1="2013.4" y1="567.1" x2="2013.4" y2="599.7" stroke="#a8a8aa" stroke-width="0.9"/></g>
<g transform="rotate(180 1987.6 679.6)"><path d="M1971.1 569.9C1971.23 569.48 1971.27 568.42 1971.90 567.40C1972.53 566.38 1973.93 564.48 1974.90 563.80C1975.87 563.12 1975.02 563.48 1977.70 563.30C1980.38 563.12 1987.50 562.70 1991.00 562.70C1994.50 562.70 1996.50 562.93 1998.70 563.30C2000.90 563.67 2002.53 564.40 2004.20 564.90C2005.87 565.40 2007.63 565.65 2008.70 566.30C2009.77 566.95 2010.28 568.38 2010.60 568.80L2010.6 598.9C2009.90 599.23 2008.02 599.88 2006.40 600.90C2004.78 601.92 2002.55 603.48 2000.90 605.00C1999.25 606.52 1997.60 608.43 1996.50 610.00C1995.40 611.57 1994.85 612.93 1994.30 614.40C1993.75 615.87 1993.67 617.52 1993.20 618.80C1992.73 620.08 1992.23 621.27 1991.50 622.10C1990.77 622.93 1989.72 623.57 1988.80 623.80C1987.88 624.03 1986.83 623.97 1986.00 623.50C1985.17 623.03 1984.32 622.15 1983.80 621.00C1983.28 619.85 1983.00 618.25 1982.90 616.60C1982.80 614.95 1982.87 612.75 1983.20 611.10C1983.53 609.45 1984.43 608.18 1984.90 606.70C1985.37 605.22 1985.82 602.95 1986.00 602.20L1969.4 601.7C1968.85 601.33 1966.83 600.52 1966.10 599.50C1965.37 598.48 1965.13 596.80 1965.00 595.60C1964.87 594.40 1965.03 593.22 1965.30 592.30C1965.57 591.38 1966.47 591.02 1966.60 590.10C1966.73 589.18 1966.10 587.92 1966.10 586.80C1966.10 585.68 1966.23 584.38 1966.60 583.40C1966.97 582.42 1968.07 581.90 1968.30 580.90C1968.53 579.90 1967.92 578.45 1968.00 577.40C1968.08 576.35 1968.33 575.38 1968.80 574.60C1969.27 573.82 1970.42 573.48 1970.80 572.70C1971.18 571.92 1971.05 570.37 1971.10 569.90Z" fill="#464648"/><line x1="2013.4" y1="567.1" x2="2013.4" y2="599.7" stroke="#464648" stroke-width="0.9"/></g>
<g transform="translate(-0.8,261.7)"><path d="M1971.1 569.9C1971.23 569.48 1971.27 568.42 1971.90 567.40C1972.53 566.38 1973.93 564.48 1974.90 563.80C1975.87 563.12 1975.02 563.48 1977.70 563.30C1980.38 563.12 1987.50 562.70 1991.00 562.70C1994.50 562.70 1996.50 562.93 1998.70 563.30C2000.90 563.67 2002.53 564.40 2004.20 564.90C2005.87 565.40 2007.63 565.65 2008.70 566.30C2009.77 566.95 2010.28 568.38 2010.60 568.80L2010.6 598.9C2009.90 599.23 2008.02 599.88 2006.40 600.90C2004.78 601.92 2002.55 603.48 2000.90 605.00C1999.25 606.52 1997.60 608.43 1996.50 610.00C1995.40 611.57 1994.85 612.93 1994.30 614.40C1993.75 615.87 1993.67 617.52 1993.20 618.80C1992.73 620.08 1992.23 621.27 1991.50 622.10C1990.77 622.93 1989.72 623.57 1988.80 623.80C1987.88 624.03 1986.83 623.97 1986.00 623.50C1985.17 623.03 1984.32 622.15 1983.80 621.00C1983.28 619.85 1983.00 618.25 1982.90 616.60C1982.80 614.95 1982.87 612.75 1983.20 611.10C1983.53 609.45 1984.43 608.18 1984.90 606.70C1985.37 605.22 1985.82 602.95 1986.00 602.20L1969.4 601.7C1968.85 601.33 1966.83 600.52 1966.10 599.50C1965.37 598.48 1965.13 596.80 1965.00 595.60C1964.87 594.40 1965.03 593.22 1965.30 592.30C1965.57 591.38 1966.47 591.02 1966.60 590.10C1966.73 589.18 1966.10 587.92 1966.10 586.80C1966.10 585.68 1966.23 584.38 1966.60 583.40C1966.97 582.42 1968.07 581.90 1968.30 580.90C1968.53 579.90 1967.92 578.45 1968.00 577.40C1968.08 576.35 1968.33 575.38 1968.80 574.60C1969.27 573.82 1970.42 573.48 1970.80 572.70C1971.18 571.92 1971.05 570.37 1971.10 569.90Z" fill="#a8a8aa"/><line x1="2013.4" y1="567.1" x2="2013.4" y2="599.7" stroke="#a8a8aa" stroke-width="0.9"/></g>
</svg>
</body></html>
